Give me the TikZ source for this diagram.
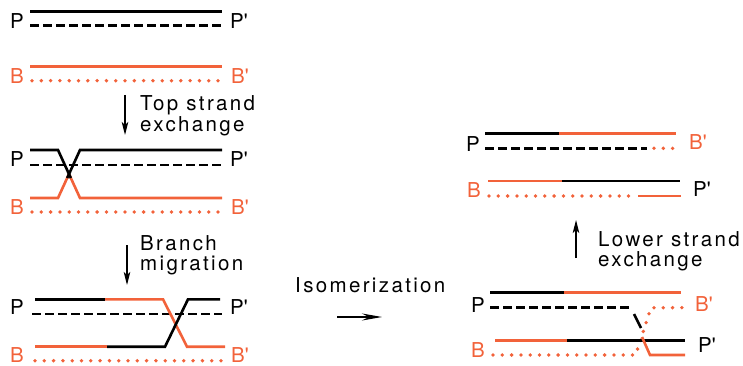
\documentclass[tikz,border=0pt]{standalone}
\usepackage{fontspec}
\setmainfont{TeX Gyre Heros}
\newfontfamily\lblfont{TeX Gyre Heros}
\newfontfamily\spaced[LetterSpace=11.5]{TeX Gyre Heros}
\usetikzlibrary{arrows.meta}
\definecolor{orng}{RGB}{242,98,58}
\begin{document}
\begin{tikzpicture}[x=1pt,y=-1pt,
  blk/.style={line width=2.6pt, black},
  org/.style={line width=2.6pt, orng},
  dsh/.style={line width=2.6pt, black, dash pattern=on 8.5pt off 4.5pt},
  dotline/.style={line width=3.8pt, orng, line cap=round, dash pattern=on 0pt off 9.3pt},
  lbl/.style={font=\lblfont\fontsize{20.5}{20}\selectfont, inner sep=0pt, anchor=west},
  olbl/.style={lbl, text=orng},
  txt/.style={font=\spaced\fontsize{20.5}{20}\selectfont, inner sep=0pt, anchor=base west},
  arr/.style={line width=1.2pt, -{Stealth[length=13pt,width=6.5pt,inset=3pt]}}]
\useasboundingbox (0,0) rectangle (743,366);

% ---------- Panel 1 ----------
\draw[blk] (30,11.7) -- (222,11.7);
\draw[dsh] (30,25.7) -- (222,25.7);
\draw[org] (30,66.7) -- (222,66.7);
\draw[dotline] (32,80.7) -- (222,80.7);
\node[lbl] (p1) at (10,20.8) {P};
\node[lbl] (p1r) at (230,20.8) {P'};
\node[olbl] (b1) at (10,75.7) {B};
\node[olbl] (b1r) at (231,75.7) {B'};

% arrow 1
\coordinate (a1s) at (125,95);
\coordinate (a1e) at (125,135);
\draw[arr] (a1s) -- (a1e);
\node[txt] (t1a) at (140,111) {Top strand};
\node[txt] (t1b) at (140,132) {exchange};

% ---------- Panel 2 ----------
\draw[dsh] (30,165) -- (222,165);
\draw[dotline] (32,212) -- (222,212);
\draw[org] (30,198) -- (58,198) -- (69,174);
\draw[org] (69,174) -- (80,198) -- (222,198);
\draw[blk] (30,150) -- (58,150) -- (70.8,178);
\draw[blk] (222,150) -- (80,150) -- (67.2,178);
\node[lbl] (p2) at (10,159.5) {P};
\node[lbl] (p2r) at (230,159.5) {P'};
\node[olbl] (b2) at (10,207) {B};
\node[olbl] (b2r) at (231,207) {B'};

% arrow 2
\coordinate (a2s) at (127,245);
\coordinate (a2e) at (127,285);
\draw[arr] (a2s) -- (a2e);
\node[txt] (t2a) at (140,250) {Branch};
\node[txt] (t2b) at (140,270) {migration};

% ---------- Panel 3 ----------
\draw[dsh] (32,314) -- (222,314);
\draw[dotline] (35,360.7) -- (222,360.7);
\draw[blk] (35,299.3) -- (105,299.3);
\draw[org] (105,299.3) -- (163,299.3) -- (187,346.7) -- (225,346.7);
\draw[org] (35,346.7) -- (107,346.7);
\draw[blk] (220,299.3) -- (188,299.3) -- (165,346.7) -- (107,346.7);
\node[lbl] (p3) at (10,307.5) {P};
\node[lbl] (p3r) at (230,307.5) {P'};
\node[olbl] (b3) at (10,355.5) {B};
\node[olbl] (b3r) at (231,355.5) {B'};

% isomerization
\node[txt] (iso) at (295,292) {Isomerization};
\coordinate (ias) at (337,317);
\coordinate (iae) at (382,317);
\draw[line width=1.2pt, -{Stealth[length=20pt,width=7pt,inset=7pt]}] (ias) -- (iae);

% ---------- Lower right panel ----------
\draw[blk] (490,292.7) -- (564,292.7);
\draw[org] (564,292.7) -- (681,292.7);
\draw[dsh] (490,307.7) -- (633,307.7);
\draw[blk] (634,314) -- (641,328);
\draw[dotline] (493,355) -- (635.6,355) -- (651,307.7) -- (682,307.7);
\draw[org] (495,340.7) -- (567,340.7);
\draw[blk] (567,340.7) -- (685,340.7);
\draw[org] (642,337) -- (650,355) -- (685,355);
\node[lbl] (p4) at (471,305) {P};
\node[olbl] (b4r) at (695,304) {B'};
\node[olbl] (b4) at (471,350) {B};
\node[lbl] (p4r) at (698,345) {P'};

% arrow lower strand
\coordinate (a3s) at (576,258);
\coordinate (a3e) at (576,220);
\draw[arr] (a3s) -- (a3e);
\node[txt] (t3a) at (598,246.5) {Lower strand};
\node[txt] (t3b) at (598,266) {exchange};

% ---------- Upper right panel ----------
\draw[blk] (485,133.3) -- (559,133.3);
\draw[org] (559,133.3) -- (676,133.3);
\draw[dsh] (485,148.3) -- (647,148.3);
\draw[dotline] (654,148.3) -- (679,148.3);
\draw[org] (488,181) -- (562,181);
\draw[blk] (562,181) -- (680,181);
\draw[dotline] (489,196) -- (632,196);
\draw[org] (638,196) -- (681,196);
\node[lbl] (p5) at (466,144.5) {P};
\node[olbl] (b5r) at (689,142.5) {B'};
\node[olbl] (b5) at (467,190.5) {B};
\node[lbl] (p5r) at (693,189.5) {P'};
\end{tikzpicture}
\end{document}
